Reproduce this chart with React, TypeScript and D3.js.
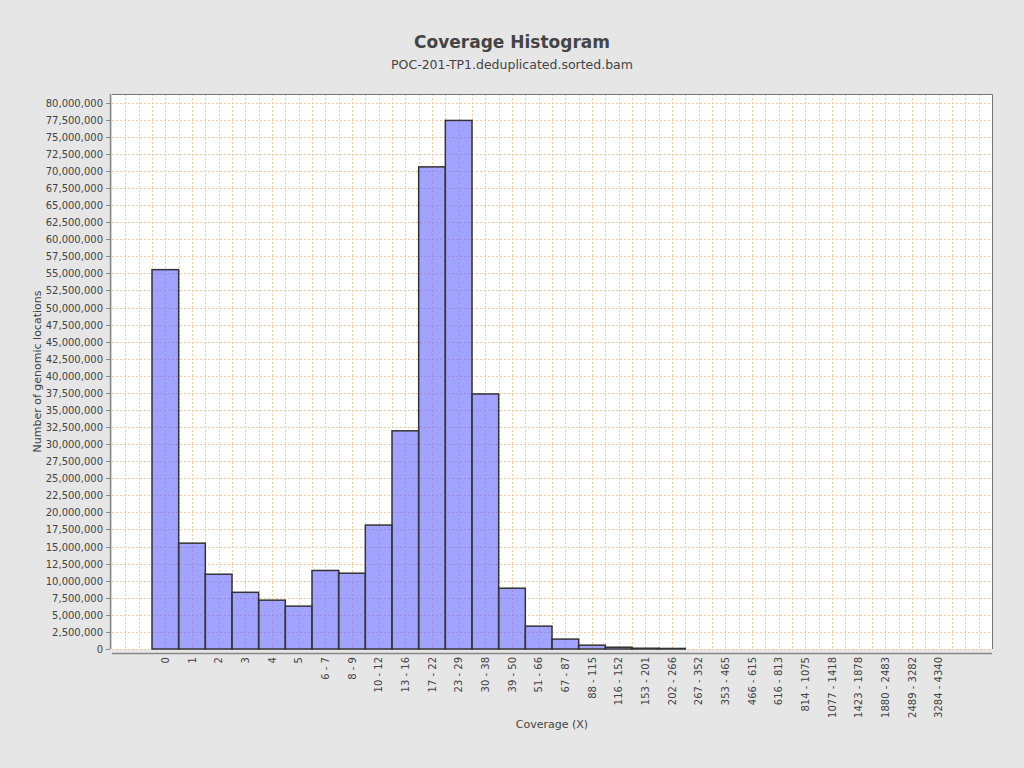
import React, { useEffect, useRef } from "react";
import * as d3 from "d3";

// coverage bins, as on the x axis
const BINS = [
    "0", "1", "2", "3", "4", "5", "6 - 7", "8 - 9", "10 - 12", "13 - 16",
    "17 - 22", "23 - 29", "30 - 38", "39 - 50", "51 - 66", "67 - 87", "88 - 115", "116 - 152", "153 - 201", "202 - 266",
    "267 - 352", "353 - 465", "466 - 615", "616 - 813", "814 - 1075", "1077 - 1418", "1423 - 1878", "1880 - 2483", "2489 - 3282", "3284 - 4340",
];

// number of genomic locations per bin
const COUNTS = [
    55550000, 15500000, 10950000, 8300000, 7150000, 6280000, 11500000, 11100000, 18150000, 31950000,
    70600000, 77400000, 37350000, 8900000, 3350000, 1450000, 560000, 260000, 110000, 80000,
    0, 0, 0, 0, 0, 0, 0, 0, 0, 0,
];

const Y_TICKS = d3.range(0, 80000001, 2500000);

const TITLE = "Coverage Histogram";
const SUBTITLE = "POC-201-TP1.deduplicated.sorted.bam";
const X_LABEL = "Coverage (X)";
const Y_LABEL = "Number of genomic locations";

const W = 1024;
const H = 768;
const FONT = "'DejaVu Sans', sans-serif";

const App: React.FC = () => {
    const svgRef = useRef<SVGSVGElement | null>(null);

    useEffect(() => {
        if (!svgRef.current) return;
        const svg = d3.select(svgRef.current);
        svg.selectAll("*").remove();

        const plot = { left: 112, right: 992, top: 94, bottom: 649 };

        // each bin is one unit wide, with 1.5 units of padding on either side
        const x = d3.scaleLinear().domain([-1.5, BINS.length + 1.5]).range([plot.left, plot.right]);
        const y = d3
            .scaleLinear()
            .domain([0, (d3.max(COUNTS) || 1) * 1.05])
            .range([plot.bottom, plot.top]);

        svg.append("rect").attr("width", W).attr("height", H).attr("fill", "#e6e6e6");

        // titles
        svg.append("text")
            .attr("x", W / 2)
            .attr("y", 48)
            .attr("text-anchor", "middle")
            .style("font-family", FONT)
            .style("font-size", "17px")
            .style("font-weight", "bold")
            .attr("fill", "#444")
            .text(TITLE);
        svg.append("text")
            .attr("x", W / 2)
            .attr("y", 69)
            .attr("text-anchor", "middle")
            .style("font-family", FONT)
            .style("font-size", "12.5px")
            .attr("fill", "#444")
            .text(SUBTITLE);

        // plot background
        svg.append("rect")
            .attr("x", plot.left)
            .attr("y", plot.top)
            .attr("width", plot.right - plot.left)
            .attr("height", plot.bottom - plot.top)
            .attr("fill", "#fff");

        const grid = svg.append("g").attr("stroke", "#f5c9a3").attr("stroke-width", 1).attr("stroke-dasharray", "2,2");
        // vertical gridlines every half bin
        d3.range(-1, BINS.length + 1.5, 0.5).forEach(v => {
            const gx = Math.round(x(v)) + 0.5;
            grid.append("line").attr("x1", gx).attr("x2", gx).attr("y1", plot.top).attr("y2", plot.bottom);
        });
        Y_TICKS.forEach(t => {
            const gy = Math.round(y(t)) + 0.5;
            grid.append("line").attr("x1", plot.left).attr("x2", plot.right).attr("y1", gy).attr("y2", gy);
        });

        // bars (translucent, so the grid shows through)
        svg.append("g")
            .selectAll("rect")
            .data(COUNTS.map((c, i) => ({ c, i })).filter(d => d.c > 0))
            .join("rect")
            .attr("x", d => x(d.i))
            .attr("y", d => y(d.c))
            .attr("width", d => x(d.i + 1) - x(d.i))
            .attr("height", d => Math.max(plot.bottom - y(d.c), 0.5))
            .attr("fill", "rgba(100,100,255,0.6)")
            .attr("stroke", "#333")
            .attr("stroke-width", 1.5);

        // plot border (top/right)
        svg.append("path")
            .attr("d", `M${plot.left},${plot.top + 0.5}H${plot.right + 0.5}V${plot.bottom}`)
            .attr("fill", "none")
            .attr("stroke", "#777")
            .attr("stroke-width", 1);

        // y axis
        const yAxis = svg.append("g");
        yAxis.append("line")
            .attr("x1", 110.5).attr("x2", 110.5)
            .attr("y1", plot.top).attr("y2", plot.bottom)
            .attr("stroke", "#888").attr("stroke-width", 1.5);
        Y_TICKS.forEach(t => {
            const ty = Math.round(y(t)) + 0.5;
            yAxis.append("line").attr("x1", 106).attr("x2", 110).attr("y1", ty).attr("y2", ty).attr("stroke", "#888");
            yAxis.append("text")
                .attr("x", 103)
                .attr("y", ty + 3.5)
                .attr("text-anchor", "end")
                .style("font-family", FONT)
                .style("font-size", "10px")
                .attr("fill", "#444")
                .text(d3.format(",")(t));
        });

        // x axis
        const xAxis = svg.append("g");
        xAxis.append("line")
            .attr("x1", plot.left).attr("x2", plot.right)
            .attr("y1", 653.5).attr("y2", 653.5)
            .attr("stroke", "#888").attr("stroke-width", 1.5);
        BINS.forEach((b, i) => {
            xAxis.append("text")
                .attr("transform", `translate(${x(i + 0.5)},657) rotate(-90)`)
                .attr("dy", "0.35em")
                .attr("text-anchor", "end")
                .style("font-family", FONT)
                .style("font-size", "10px")
                .attr("fill", "#444")
                .text(b);
        });

        // axis labels
        svg.append("text")
            .attr("x", (plot.left + plot.right) / 2)
            .attr("y", 728)
            .attr("text-anchor", "middle")
            .style("font-family", FONT)
            .style("font-size", "11px")
            .attr("fill", "#444")
            .text(X_LABEL);
        svg.append("text")
            .attr("transform", `translate(41,${(plot.top + plot.bottom) / 2}) rotate(-90)`)
            .attr("text-anchor", "middle")
            .style("font-family", FONT)
            .style("font-size", "11px")
            .attr("fill", "#444")
            .text(Y_LABEL);
    }, []);

    return (
        <svg
            ref={svgRef}
            width={W}
            height={H}
            style={{ position: "absolute", left: 0, top: 0, display: "block" }}
        />
    );
};

export default App;
